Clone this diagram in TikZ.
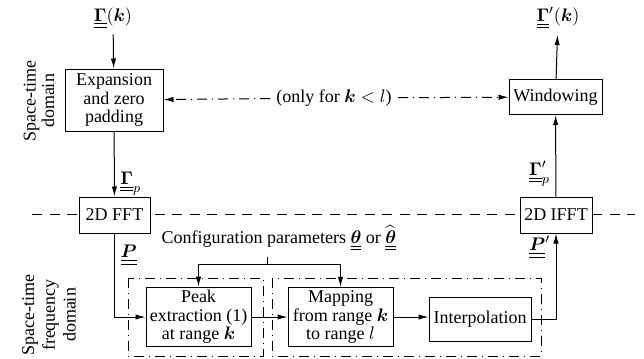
\documentclass[tikz,border=0pt]{standalone}
\usepackage{amsmath, amssymb, bm}
\usepackage[no-math]{fontspec}
\setmainfont{Liberation Serif}
\usetikzlibrary{arrows.meta, positioning, calc}
\newcommand{\dul}[1]{\underline{\underline{#1}}}

\begin{document}
\begin{tikzpicture}[x=0.6pt, y=-0.6pt, line width=0.6pt,
    every node/.style={font=\fontsize{10.8}{11}\selectfont},
    blk/.style={draw, fill=white, align=center, inner sep=2pt},
    grp/.style={draw, dash pattern=on 6pt off 3pt on 0.6pt off 3pt},
    sig/.style={-{Latex[length=6pt, width=3.2pt]}},
    opt/.style={sig, dash pattern=on 6pt off 3pt on 0.6pt off 3pt}]
    \useasboundingbox (0,0) rectangle (644,358);

    % Trennlinie
    \draw[dash pattern=on 6pt off 4.5pt] (32,214) -- (635,214);

    % Bereiche
    \node[rotate=90, align=center] (tdom) at (39,101) {Space-time\\domain};
    \node[rotate=90, align=center, font=\fontsize{10.8}{12.5}\selectfont] (fdom) at (49,315) {Space-time\\frequency\\domain};

    % Zeitbereich
    \node (gin) at (113,18) {$\dul{\mathbf{\Gamma}}(\bm{k})$};
    \node[blk, minimum width=58.8pt, minimum height=37.2pt] (exp) at (114,100) {Expansion\\and zero\\padding};
    \node[blk, minimum width=55.8pt, minimum height=21pt] (win) at (555.5,97) {Windowing};
    \node (gout) at (558,18) {$\dul{\mathbf{\Gamma}}'(\bm{k})$};
    \node (only) at (334,98) {(only for $\bm{k} < l$)};

    % Transformation
    \node[blk, minimum width=42.6pt, minimum height=21.6pt] (fft) at (114.5,215) {2D FFT};
    \node[blk, minimum width=43.2pt, minimum height=21.6pt] (ifft) at (556,215) {2D IFFT};

    % Frequenzbereich
    \draw[grp] (128,278) rectangle (263,356);
    \draw[grp] (272,278) rectangle (541,356);
    \node[blk, minimum width=63pt, minimum height=35.4pt] (peak) at (198.5,317) {Peak\\extraction (1)\\at range $\bm{k}$};
    \node[blk, minimum width=63pt, minimum height=35.4pt] (map) at (340.5,317) {Mapping\\from range $\bm{k}$\\to range $l$};
    \node[blk, minimum width=61.2pt, minimum height=26.4pt] (interp) at (480,319) {Interpolation};
    \node (conf) at (279,238) {Configuration parameters $\dul{\bm{\theta}}$ or $\widehat{\dul{\bm{\theta}}}$};
    \coordinate (cj) at (267,264);

    % Verbindungen
    \draw[sig] (gin) -- (exp);
    \draw[sig] (exp) -- (fft) node[pos=0.8, right] {$\dul{\mathbf{\Gamma}}_p$};
    \draw[sig] (fft) |- (peak) node[pos=0.13, right] {$\dul{\bm{P}}$};
    \draw[sig] (peak) -- (map);
    \draw[sig] (map.east) -- (map.east -| interp.west);
    \draw[sig] (interp) -| (ifft) node[pos=0.92, left] {$\dul{\bm{P}}'$};
    \draw[sig] (ifft) -- (win) node[pos=0.28, left] {$\dul{\mathbf{\Gamma}}'_p$};
    \draw[sig] (win) -- (gout);
    \draw[opt] (only) -- (exp);
    \draw[opt] (only) -- (win);
    \draw (cj |- conf.south) -- (cj);
    \draw[sig] (cj) -| (peak);
    \draw[sig] (cj) -| (map);
\end{tikzpicture}
\end{document}
